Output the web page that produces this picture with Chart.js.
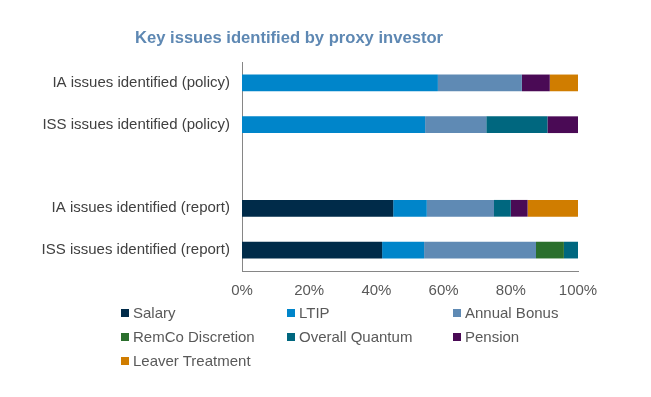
<!DOCTYPE html>
<html>
<head>
<meta charset="utf-8">
<script src="https://cdn.jsdelivr.net/npm/chart.js@4.4.1/dist/chart.umd.min.js"></script>
<style>
  html, body { margin: 0; padding: 0; background: #fff; }
  #wrap { position: relative; width: 651px; height: 397px; font-family: "Liberation Sans", Arial, sans-serif; }
  #title { position: absolute; left: 135px; top: 28px; font-size: 16.6px; font-weight: bold; color: #5e88b3; white-space: nowrap; }
  #legend { position: absolute; left: 121px; top: 304px; width: 520px; }
  .item { position: absolute; font-size: 15px; color: #595959; white-space: nowrap; }
  .item i { display: inline-block; width: 8px; height: 8px; margin-right: 4px; vertical-align: 1px; }
</style>
</head>
<body>
<div id="wrap">
  <canvas id="chart" width="651" height="397"></canvas>
  <div id="title">Key issues identified by proxy investor</div>
  <div id="legend"></div>
</div>
<script>
const categories = [
  "IA issues identified (policy)",
  "ISS issues identified (policy)",
  "",
  "IA issues identified (report)",
  "ISS issues identified (report)",
];

// shares of issues, in %
const salary         = [0,    0,    null, 45, 41.7];
const ltip           = [58.3, 54.5, null, 10, 12.5];
const annualBonus    = [25,   18.2, null, 20, 33.3];
const remcoDiscretion= [0,    0,    null, 0,  8.3];
const overallQuantum = [0,    18.2, null, 5,  4.2];
const pension        = [8.3,  9.1,  null, 5,  0];
const leaverTreatment= [8.4,  0,    null, 15, 0];

const xTicks = ["0%", "20%", "40%", "60%", "80%", "100%"];

const series = [
  { label: "Salary", data: salary, color: "#002b49" },
  { label: "LTIP", data: ltip, color: "#0085ca" },
  { label: "Annual Bonus", data: annualBonus, color: "#5f8ab4" },
  { label: "RemCo Discretion", data: remcoDiscretion, color: "#2b6f2d" },
  { label: "Overall Quantum", data: overallQuantum, color: "#00677f" },
  { label: "Pension", data: pension, color: "#4a0a55" },
  { label: "Leaver Treatment", data: leaverTreatment, color: "#d07d00" },
];

// html legend, three columns
const legendPos = [[0, 0], [166, 0], [332, 0], [0, 24], [166, 24], [332, 24], [0, 48]];
const legend = document.getElementById("legend");
series.forEach((s, i) => {
  const d = document.createElement("div");
  d.className = "item";
  d.style.left = legendPos[i][0] + "px";
  d.style.top = legendPos[i][1] + "px";
  d.innerHTML = `<i style="background:${s.color}"></i>${s.label}`;
  legend.appendChild(d);
});

new Chart(document.getElementById("chart"), {
  type: "bar",
  data: {
    labels: categories,
    datasets: series.map((s) => ({
      label: s.label,
      data: s.data,
      backgroundColor: s.color,
      borderWidth: 0,
      categoryPercentage: 1,
      barPercentage: 0.4,
    })),
  },
  options: {
    indexAxis: "y",
    responsive: false,
    animation: false,
    layout: { padding: { left: 0, right: 73, top: 62, bottom: 96 } },
    plugins: { legend: { display: false }, tooltip: { enabled: false } },
    scales: {
      x: {
        stacked: true,
        min: 0,
        max: 100,
        afterFit: (axis) => { axis.height = 30; },
        afterBuildTicks: (axis) => {
          axis.ticks = xTicks.map((_, i) => ({ value: i * 20 }));
        },
        ticks: {
          color: "#595959",
          font: { family: "Liberation Sans", size: 15 },
          padding: 11,
          callback: (v, i) => xTicks[i],
        },
        grid: { display: false, drawTicks: false },
        border: { color: "#868686", width: 1 },
      },
      y: {
        stacked: true,
        afterFit: (axis) => { axis.width = 242; },
        ticks: {
          color: "#404040",
          font: { family: "Liberation Sans", size: 15 },
          padding: 12,
        },
        grid: { display: false, drawTicks: false },
        border: { color: "#868686", width: 1 },
      },
    },
  },
});
</script>
</body>
</html>
